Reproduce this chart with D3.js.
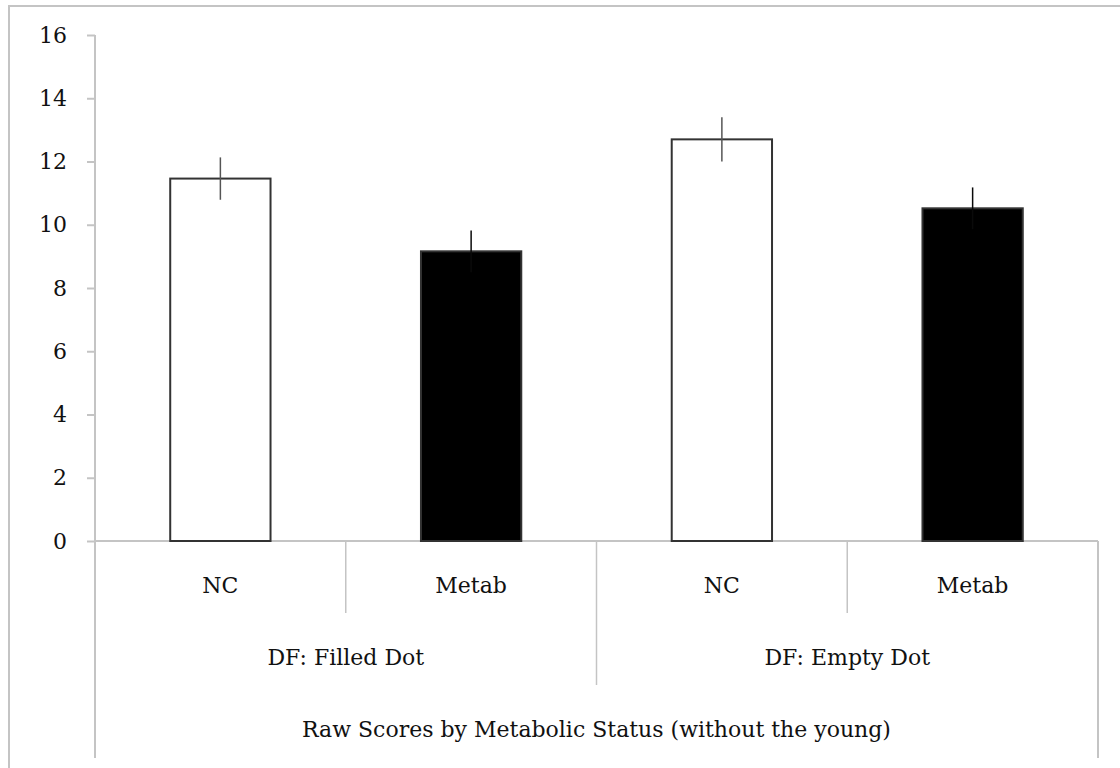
<!DOCTYPE html>
<html>
<head>
<meta charset="utf-8">
<script src="https://cdn.jsdelivr.net/npm/d3@7"></script>
<style>
  html, body { margin: 0; padding: 0; background: #fff; }
  svg { display: block; }
  text { font-family: "DejaVu Serif", "Liberation Serif", serif; fill: #111; }
</style>
</head>
<body>
<svg id="chart" width="1120" height="768"></svg>
<script>
// Mean raw scores, grouped by dot condition and metabolic status
const groups = ["DF: Filled Dot", "DF: Empty Dot"];
const statuses = ["NC", "Metab"];
const means = [11.46, 9.16, 12.70, 10.52];
const errors = [0.67, 0.66, 0.70, 0.66];
const yTicks = [0, 2, 4, 6, 8, 10, 12, 14, 16];
const axisTitle = "Raw Scores by Metabolic Status (without the young)";

const rows = [];
groups.forEach((g, gi) => statuses.forEach((s, si) => {
  const i = gi * statuses.length + si;
  rows.push({ key: g + "|" + s, group: g, status: s, mean: means[i], err: errors[i] });
}));

const W = 1120, H = 768;
const plotLeft = 95, plotRight = 1098, plotTop = 35, base = 541, bottomEnd = 758;
const gridColor = "#c4c4c4";
const fontStack = '"DejaVu Serif", "Liberation Serif", serif';
const fontSize = 22;

const svg = d3.select("#chart");

// outer frame (top and left edges)
svg.append("path")
  .attr("d", `M9,${H} L9,6 L${W},6`)
  .attr("fill", "none").attr("stroke", gridColor).attr("stroke-width", 2);

const x = d3.scaleBand()
  .domain(rows.map(d => d.key))
  .range([plotLeft, plotRight])
  .paddingInner(0.6)
  .paddingOuter(0.3);

const y = d3.scaleLinear().domain([0, 16]).range([base, plotTop]);

// y axis
const yAxis = d3.axisLeft(y).tickValues(yTicks).tickSize(8).tickPadding(20).tickFormat(d3.format("d"));
const yg = svg.append("g").attr("transform", `translate(${plotLeft},0)`).call(yAxis);
yg.select(".domain").remove();
yg.selectAll(".tick line").attr("stroke", gridColor).attr("stroke-width", 2);
yg.selectAll(".tick text").attr("font-size", fontSize).attr("fill", "#111")
  .style("font-family", fontStack);

// axis line, extended down as the outer left divider
svg.append("line").attr("x1", plotLeft).attr("x2", plotLeft).attr("y1", plotTop).attr("y2", bottomEnd)
  .attr("stroke", gridColor).attr("stroke-width", 2);
svg.append("line").attr("x1", plotRight).attr("x2", plotRight).attr("y1", base).attr("y2", bottomEnd)
  .attr("stroke", gridColor).attr("stroke-width", 2);
svg.append("line").attr("x1", plotLeft).attr("x2", plotRight).attr("y1", base).attr("y2", base)
  .attr("stroke", gridColor).attr("stroke-width", 2);

// category dividers
const step = x.step();
rows.forEach((d, i) => {
  if (i === 0) return;
  const xi = plotLeft + step * i;
  const isGroupEdge = i % statuses.length === 0;
  svg.append("line").attr("x1", xi).attr("x2", xi)
    .attr("y1", base).attr("y2", isGroupEdge ? 685 : 613)
    .attr("stroke", gridColor).attr("stroke-width", 1.5);
});

// bars
svg.append("g").selectAll("rect").data(rows).join("rect")
  .attr("x", d => x(d.key))
  .attr("y", d => y(d.mean))
  .attr("width", x.bandwidth())
  .attr("height", d => y(0) - y(d.mean))
  .attr("fill", d => d.status === "NC" ? "#ffffff" : "#000000")
  .attr("stroke", "#333")
  .attr("stroke-width", 2);

// error bars
svg.append("g").selectAll("line").data(rows).join("line")
  .attr("x1", d => x(d.key) + x.bandwidth() / 2)
  .attr("x2", d => x(d.key) + x.bandwidth() / 2)
  .attr("y1", d => y(d.mean + d.err))
  .attr("y2", d => y(d.mean - d.err))
  .attr("stroke", d => d.status === "NC" ? "#555" : "#0a0a0a")
  .attr("stroke-width", 1.5);

// status labels
svg.append("g").selectAll("text").data(rows).join("text")
  .attr("x", d => x(d.key) + x.bandwidth() / 2)
  .attr("y", 593)
  .attr("text-anchor", "middle")
  .attr("font-size", fontSize)
  .text(d => d.status);

// group labels
svg.append("g").selectAll("text").data(groups).join("text")
  .attr("x", (g, gi) => plotLeft + step * statuses.length * (gi + 0.5))
  .attr("y", 665)
  .attr("text-anchor", "middle")
  .attr("font-size", fontSize)
  .text(g => g);

// axis title
svg.append("text")
  .attr("x", (plotLeft + plotRight) / 2)
  .attr("y", 737)
  .attr("text-anchor", "middle")
  .attr("font-size", fontSize)
  .text(axisTitle);
</script>
</body>
</html>
